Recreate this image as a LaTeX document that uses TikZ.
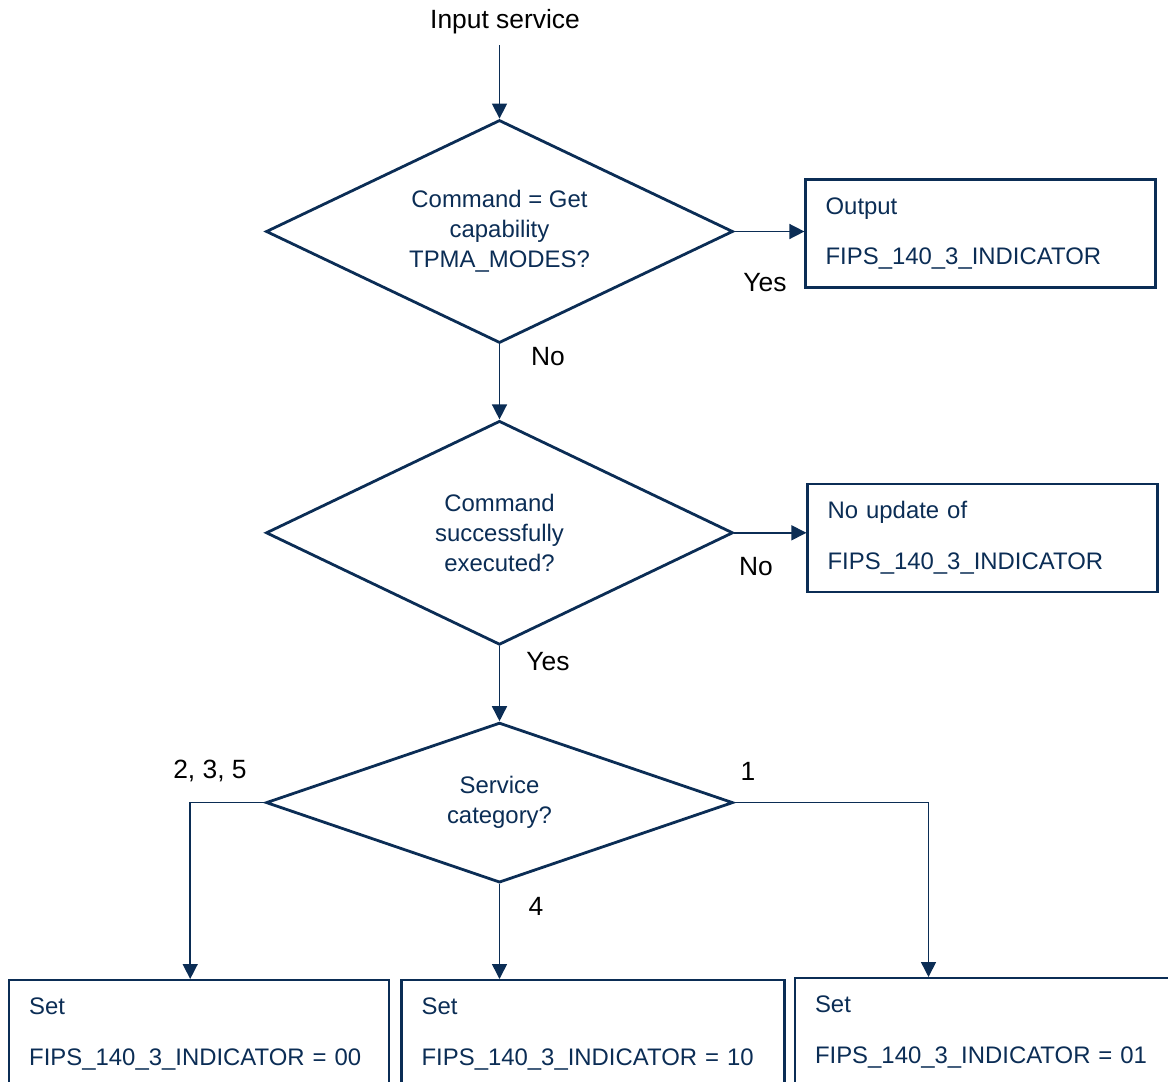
\documentclass[tikz,border=0pt]{standalone}
\usepackage{fontspec}
\setmainfont{Liberation Sans}
\usetikzlibrary{arrows.meta,positioning,shapes.geometric}
\definecolor{navy}{HTML}{0B2D55}

\begin{document}
\begin{tikzpicture}[
  x=1bp, y=-1bp,
  font=\fontsize{24}{30}\selectfont,
  node distance=72bp,
  decision/.style={draw=navy, line width=2.8bp, shape=diamond, aspect=2.1, inner sep=0pt,
                   align=center, text=navy, minimum width=467bp},
  outbox/.style={draw=navy, line width=2.4bp, align=left, text=navy, inner xsep=20bp,
                 minimum height=108bp, text width=310bp, font=\fontsize{24}{51}\selectfont},
  setbox/.style={outbox, text width=340bp},
  lbl/.style={inner sep=0pt, font=\fontsize{26.5}{30}\selectfont},
  arr/.style={draw=navy, line width=1.5bp, -{Triangle[length=15bp,width=15bp]}}
]
\useasboundingbox (0,0) rectangle (1168,1082);

\node[lbl, inner ysep=11bp] (in) at (505,21.5) {Input service};
\node[decision, minimum height=223bp] (d1) at (499.5,231.5) {Command = Get\\ capability\\ TPMA\_MODES?};
\node[decision, minimum height=224bp, below=75bp of d1] (d2) {Command\\ successfully\\ executed?};
\node[decision, minimum height=160bp, below=75bp of d2] (d3) {Service\\ category?};

\node[outbox, right=70bp of d1, yshift=-2bp] (out) {Output\\ FIPS\_140\_3\_INDICATOR};
\node[outbox, right=72bp of d2, yshift=-5bp] (noupd) {No update of\\ FIPS\_140\_3\_INDICATOR};

\node[setbox, anchor=north west] (setA) at (8,979) {Set\\ FIPS\_140\_3\_INDICATOR = 00};
\node[setbox, text width=343bp, right=10bp of setA] (setB) {Set\\ FIPS\_140\_3\_INDICATOR = 10};
\node[setbox, text width=343bp, right=8bp of setB, yshift=2bp] (setC) {Set\\ FIPS\_140\_3\_INDICATOR = 01};

% branch labels
\node[lbl] (yes1) at (765,283) {Yes};
\node[lbl] (no1) at (548,357) {No};
\node[lbl] (no2) at (756,567) {No};
\node[lbl] (yes2) at (548,662) {Yes};
\node[lbl] (c235) at (210,771) {2, 3, 5};
\node[lbl] (c1) at (748,771) {1};
\node[lbl] (c4) at (536,906) {4};

\draw[arr] (in.south -| d1.north) -- (d1.north);
\draw[arr] (d1.east) -- (d1.east -| out.west);
\draw[arr] (d1.south) -- (d2.north);
\draw[arr] (d2.east) -- (d2.east -| noupd.west);
\draw[arr] (d2.south) -- (d3.north);
\draw[arr] (d3.west) -| ([xshift=-9bp]setA.north);
\draw[arr] (d3.south) -- (d3.south |- setB.north);
\draw[arr] (d3.east) -| ([xshift=-58bp]setC.north);
\end{tikzpicture}
\end{document}
